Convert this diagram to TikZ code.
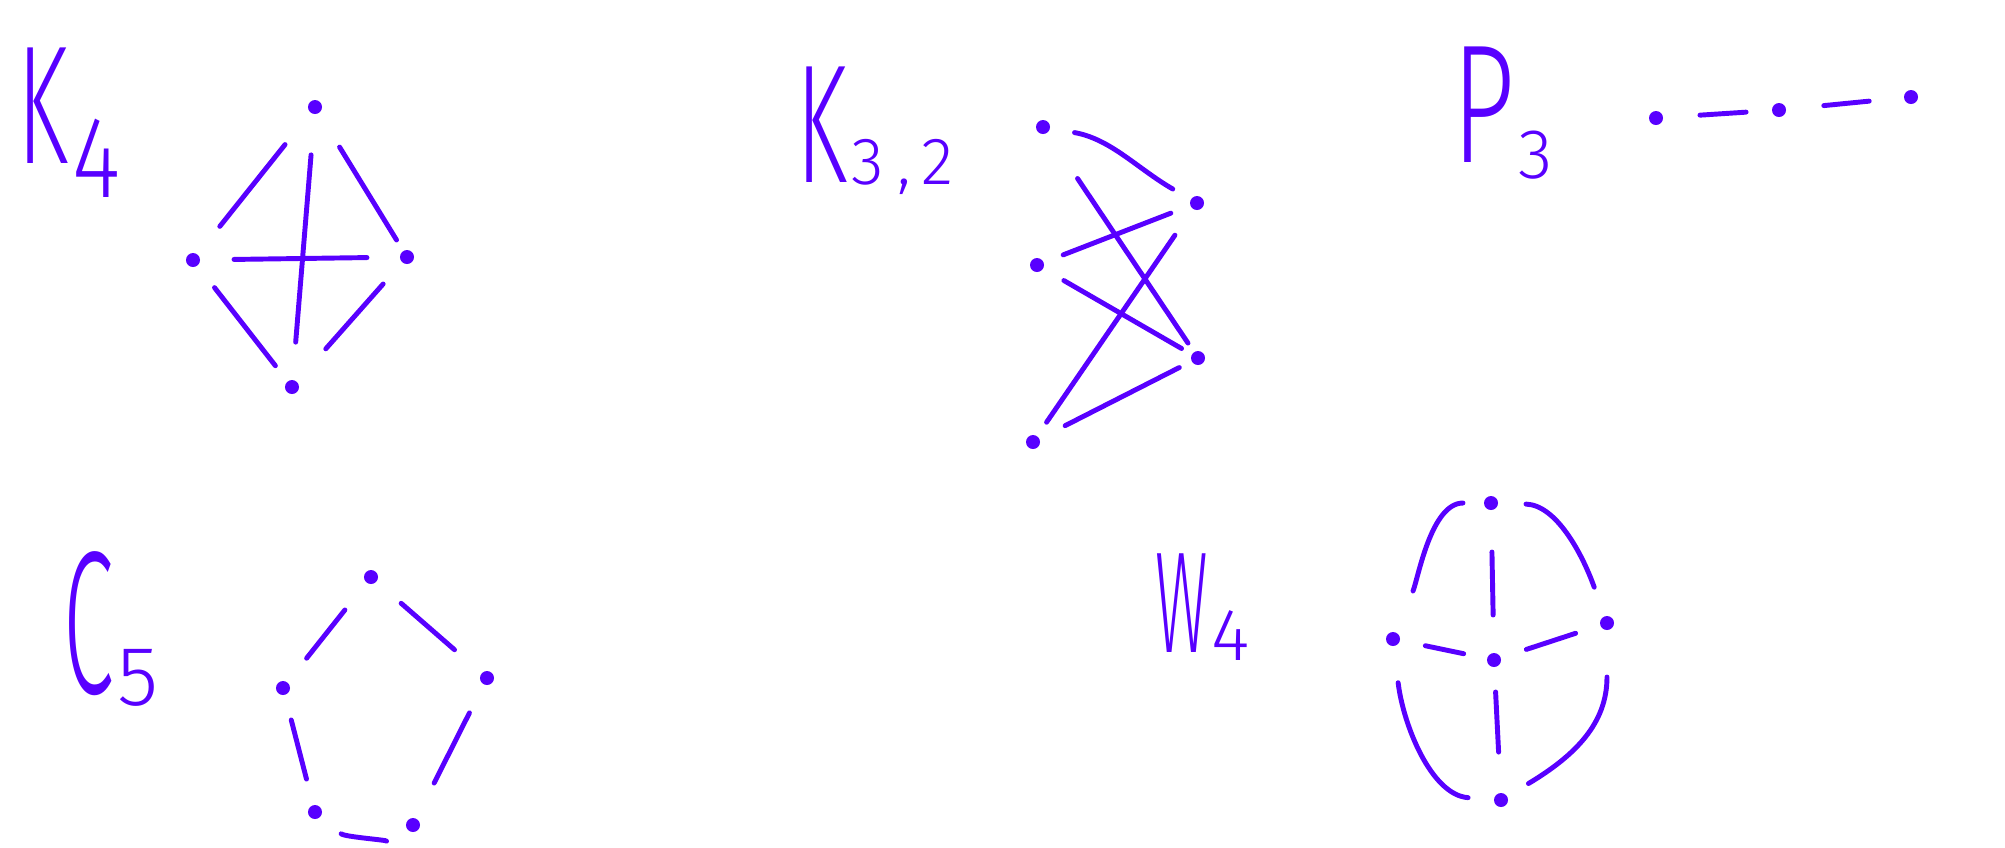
\documentclass[tikz,border=0pt]{standalone}
\usepackage{fontspec}
\usepackage{graphicx}
\setmainfont{Fira Sans}[UprightFont={* Light}]
\definecolor{ink}{RGB}{88,0,255}
% #1 letter size, #2 letter, #3 sub size, #4 sub, #5 drop, #6 xscale of letter
\newcommand\glabel[6]{{\fontsize{#1}{#1}\selectfont\scalebox{#6}[1]{#2}}\kern1pt\raisebox{-#5}{\fontsize{#3}{#3}\selectfont #4}}
\begin{document}
\begin{tikzpicture}[x=0.01cm,y=-0.01cm,
  dot/.style={circle,fill=ink,inner sep=0pt,minimum size=0.14cm,outer sep=0pt},
  gline/.style={draw=ink,line width=1.4pt,line cap=round},
  lbl/.style={text=ink,inner sep=0pt,anchor=base west}]
\path[use as bounding box] (0,0) rectangle (2005,847);

% ---------- K4 ----------
\node[lbl] (lk4) at (17,163) {\glabel{48}{K}{33}{\scalebox{0.8}[1]{4}}{0.34cm}{0.55}};
\node[dot] (kt) at (315,107) {};
\node[dot] (kl) at (193,260) {};
\node[dot] (kr) at (407,257) {};
\node[dot] (kb) at (292,387) {};
\draw[gline, shorten <=0.41cm, shorten >=0.36cm] (kt) -- (kl);
\draw[gline, shorten <=0.40cm, shorten >=0.13cm] (kt) -- (kr);
\draw[gline, shorten <=0.34cm, shorten >=0.33cm] (kl) -- (kr);
\draw[gline, shorten <=0.41cm, shorten >=0.38cm] (kt) -- (kb);
\draw[gline, shorten <=0.28cm, shorten >=0.20cm] (kl) -- (kb);
\draw[gline, shorten <=0.29cm, shorten >=0.44cm] (kr) -- (kb);

% ---------- K3,2 ----------
\node[lbl] (lk32) at (796,182) {\glabel{48}{K}{19}{3\kern4pt,\kern3pt2}{0.02cm}{0.55}};
\node[dot] (ba) at (1043,127) {};
\node[dot] (bb) at (1037,265) {};
\node[dot] (bc) at (1033,442) {};
\node[dot] (bd) at (1197,203) {};
\node[dot] (be) at (1198,358) {};
\draw[gline, shorten <=0.25cm, shorten >=0.21cm] (ba) to[out=-10,in=150] (bd);
\draw[gline, shorten <=0.55cm, shorten >=0.11cm] (ba) -- (be);
\draw[gline, shorten <=0.21cm, shorten >=0.21cm] (bb) -- (bd);
\draw[gline, shorten <=0.24cm, shorten >=0.12cm] (bb) -- (be);
\draw[gline, shorten <=0.17cm, shorten >=0.32cm] (bc) -- (bd);
\draw[gline, shorten <=0.29cm, shorten >=0.14cm] (bc) -- (be);

% ---------- P3 ----------
\node[lbl] (lp3) at (1452,162) {\glabel{48}{P}{20}{3}{0.16cm}{0.65}};
\node[dot] (p1) at (1656,118) {};
\node[dot] (p2) at (1779,110) {};
\node[dot] (p3) at (1911,97) {};
\draw[gline, shorten <=0.37cm, shorten >=0.26cm] (p1) -- (p2);
\draw[gline, shorten <=0.38cm, shorten >=0.35cm] (p2) -- (p3);

% ---------- C5 ----------
\node[lbl] (lc5) at (63,693) {\glabel{58}{C}{24}{5}{0.12cm}{0.45}};
\node[dot] (ct) at (371,577) {};
\node[dot] (cl) at (283,688) {};
\node[dot] (cr) at (487,678) {};
\node[dot] (cbl) at (315,812) {};
\node[dot] (cbr) at (413,825) {};
\draw[gline, shorten <=0.35cm, shorten >=0.31cm] (ct) -- (cl);
\draw[gline, shorten <=0.33cm, shorten >=0.36cm] (ct) -- (cr);
\draw[gline, shorten <=0.26cm, shorten >=0.27cm] (cl) -- (cbl);
\draw[gline, shorten <=0.32cm, shorten >=0.40cm] (cr) -- (cbr);
\draw[gline, shorten <=0.27cm, shorten >=0.24cm] (cbl) .. controls +(30,25) and +(-25,15) .. (cbr);

% ---------- W4 ----------
\node[lbl] (lw4) at (1155,652) {\glabel{41}{W}{21}{4}{0.08cm}{0.45}};
\node[dot] (wt) at (1491,503) {};
\node[dot] (wl) at (1393,639) {};
\node[dot] (wc) at (1494,660) {};
\node[dot] (wr) at (1607,623) {};
\node[dot] (wb) at (1501,800) {};
\draw[gline, shorten <=0.42cm, shorten >=0.38cm] (wt) -- (wc);
\draw[gline, shorten <=0.26cm, shorten >=0.24cm] (wl) -- (wc);
\draw[gline, shorten <=0.27cm, shorten >=0.26cm] (wc) -- (wr);
\draw[gline, shorten <=0.25cm, shorten >=0.41cm] (wc) -- (wb);
\draw[gline, shorten <=0.21cm, shorten >=0.45cm] (wt) .. controls +(-60,0) and +(25,-60) .. (wl);
\draw[gline, shorten <=0.28cm, shorten >=0.31cm] (wt) .. controls +(65,2) and +(-25,-70) .. (wr);
\draw[gline, shorten <=0.37cm, shorten >=0.26cm] (wl) .. controls +(10,85) and +(-70,-5) .. (wb);
\draw[gline, shorten <=0.47cm, shorten >=0.25cm] (wr) .. controls +(0,100) and +(75,-45) .. (wb);
\end{tikzpicture}
\end{document}
